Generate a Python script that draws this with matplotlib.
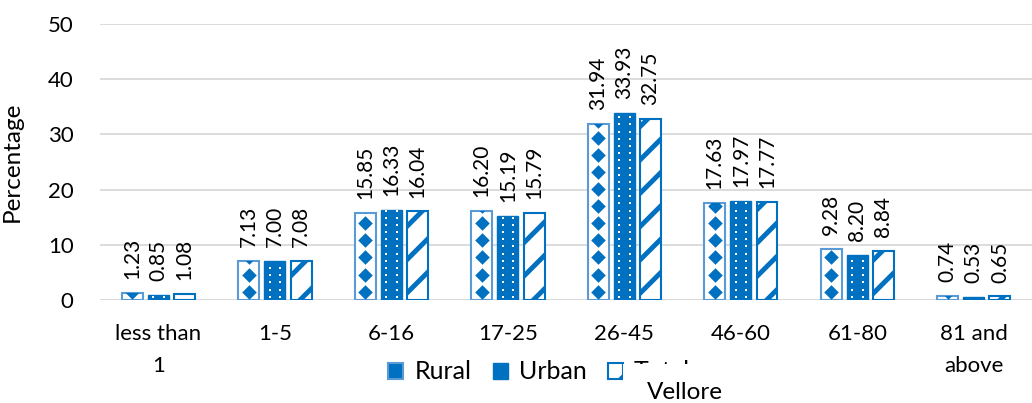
import numpy as np
import matplotlib.pyplot as plt
from matplotlib.patches import Patch, Rectangle

plt.rcParams['font.family'] = ['Lato', 'DejaVu Sans']
plt.rcParams['hatch.linewidth'] = 3.5

categories = ["less than\n1", "1-5", "6-16", "17-25", "26-45", "46-60", "61-80", "81 and\nabove"]
rural = [1.23, 7.13, 15.85, 16.20, 31.94, 17.63, 9.28, 0.74]
urban = [0.85, 7.00, 16.33, 15.19, 33.93, 17.97, 8.20, 0.53]
total = [1.08, 7.08, 16.04, 15.79, 32.75, 17.77, 8.84, 0.65]

BLUE = "#0070C0"
LIGHT = "#5B9BD5"

fig = plt.figure(figsize=(10.32, 4.03), dpi=100)
ax = fig.add_axes([0.097, 0.2556, 0.903, 0.6848])

x = np.arange(len(categories))
w = 0.18
gap = 0.045
offs = [-(w + gap), 0, w + gap]

# Rural: white bars with a column of diamonds
rb = ax.bar(x + offs[0], rural, w, facecolor="white", edgecolor=LIGHT, linewidth=1.5, zorder=3)
for bar, h in zip(rb, rural):
    ys = np.arange(1.5, h + 3, 3.1)
    sc = ax.scatter(np.full(len(ys), bar.get_x() + w / 2), ys, marker="D", s=55,
                    color=BLUE, linewidths=0, zorder=4)
    sc.set_clip_path(bar)

# Urban: solid bars with two columns of small white dots
ub = ax.bar(x + offs[1], urban, w, facecolor=BLUE, edgecolor=BLUE, linewidth=1, zorder=3)
for bar, h in zip(ub, urban):
    ys = np.arange(0.6, h, 1.3)
    for dx in (-w / 4, w / 4):
        sc = ax.scatter(np.full(len(ys), bar.get_x() + w / 2 + dx), ys, marker="s", s=4,
                        color="white", linewidths=0, zorder=4)
        sc.set_clip_path(bar)

# Total: white bars with diagonal stripes
ax.bar(x + offs[2], total, w, facecolor="white", edgecolor=BLUE, hatch="/",
       linewidth=1.5, zorder=3)

for series, o in zip([rural, urban, total], offs):
    for xi, v in zip(x, series):
        ax.annotate(f"{v:.2f}", (xi + o, v), xytext=(0, 10), textcoords="offset points",
                    rotation=90, ha="center", va="bottom", fontsize=15, color="black")

ax.set_xlim(-0.5, len(categories) - 0.5)
ax.set_ylim(0, 50)
ax.set_yticks(range(0, 51, 10))
ax.set_xticks(x)
ax.set_xticklabels(categories, fontsize=16, linespacing=1.8)
ax.tick_params(axis="y", labelsize=16, length=0, pad=19)
ax.tick_params(axis="x", length=0, pad=17)
ax.yaxis.grid(True, color="#D9D9D9", linewidth=1.3, zorder=0)
ax.set_axisbelow(True)
for s in ax.spines.values():
    s.set_visible(False)
ax.axhline(0, color="#D9D9D9", linewidth=1.3, zorder=2)
ax.set_ylabel("Percentage", fontsize=17.5)
ax.yaxis.set_label_coords(-0.083, 0.5)

handles = [
    Patch(facecolor=BLUE, edgecolor=LIGHT, linewidth=1.5, label="Rural"),
    Patch(facecolor=BLUE, edgecolor=BLUE, label="Urban"),
    Patch(facecolor="white", edgecolor=BLUE, hatch="/", linewidth=1.5, label="Total"),
]
fig.legend(handles=handles, loc="center left", bbox_to_anchor=(0.376, 0.077), ncol=3,
           frameon=False, fontsize=18, handlelength=0.6, handleheight=0.6,
           handletextpad=0.45, columnspacing=0.85, borderpad=0, borderaxespad=0)

# axis title box sits over the end of the legend
fig.patches.append(Rectangle((0.604, 0.0), 0.14, 0.097, transform=fig.transFigure,
                             facecolor="white", edgecolor="none", zorder=9))
fig.text(0.664, 0.025, "Vellore", ha="center", va="center", fontsize=17.5, zorder=10)

fig.savefig("out.png", dpi=100)
